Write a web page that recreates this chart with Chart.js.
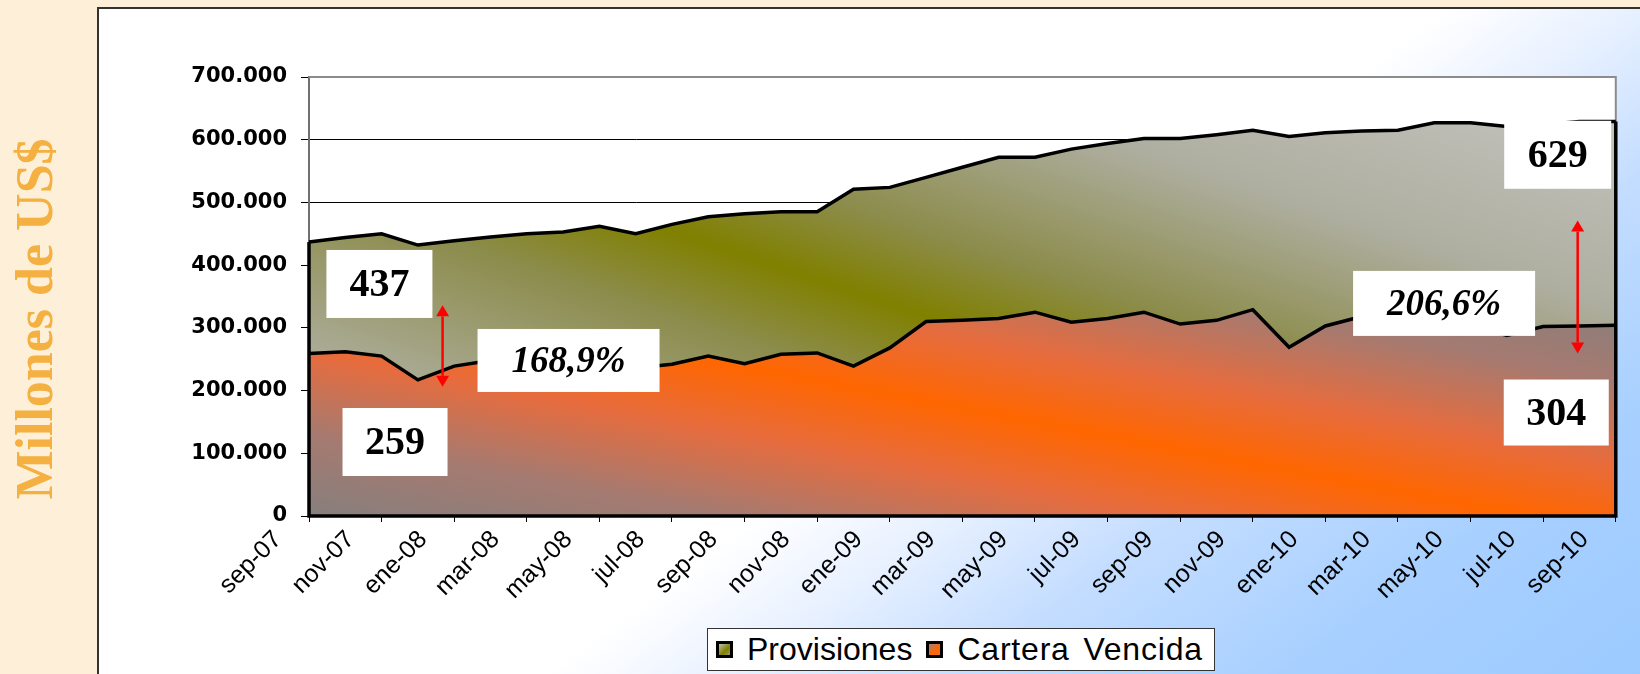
<!DOCTYPE html>
<html>
<head>
<meta charset="utf-8">
<script src="https://cdn.jsdelivr.net/npm/chart.js@4.4.0/dist/chart.umd.min.js"></script>
<style>
  html, body { margin: 0; padding: 0; }
  body { width: 1640px; height: 674px; background: #fef0d8; position: relative; overflow: hidden; }
  #title {
    position: absolute; left: 34px; top: 319px;
    transform: translate(-50%, -50%) rotate(-90deg);
    font: bold 52px "Liberation Serif", "Times New Roman", serif;
    color: #f4b040; white-space: nowrap;
  }
  #panel {
    position: absolute; left: 97px; top: 7px; width: 1545px; height: 669px;
    border-left: 2px solid #333; border-top: 2px solid #333;
    background: linear-gradient(143.5deg, #ffffff 0%, #ffffff 55%, #eaf2ff 62%, #c4ddff 72%, #a8d0ff 85%, #9ccaff 100%);
  }
  #chart { position: absolute; left: 100px; top: 10px; }
  #legend {
    position: absolute; left: 707px; top: 628px; width: 508px; height: 43px;
    background: #fff; border: 1px solid #333; box-sizing: border-box;
    display: flex; align-items: center;
    font: 32px "Liberation Sans", Arial, sans-serif; color: #000;
  }
  .item { display: flex; align-items: center; margin-left: 8px; margin-right: 6px; }
  .item + .item span:last-child { letter-spacing: 0.8px; word-spacing: 4px; }
  .sw { width: 11px; height: 11px; border: 3px solid #000; margin-right: 14px; }
</style>
</head>
<body>
<div id="panel"></div>
<div id="title">Millones de US$</div>
<canvas id="chart" width="1540" height="664"></canvas>
<div id="legend"></div>
<script>
const months = [
  "sep-07", "oct-07", "nov-07", "dic-07",
  "ene-08", "feb-08", "mar-08", "abr-08", "may-08", "jun-08", "jul-08", "ago-08", "sep-08", "oct-08", "nov-08", "dic-08",
  "ene-09", "feb-09", "mar-09", "abr-09", "may-09", "jun-09", "jul-09", "ago-09", "sep-09", "oct-09", "nov-09", "dic-09",
  "ene-10", "feb-10", "mar-10", "abr-10", "may-10", "jun-10", "jul-10", "ago-10", "sep-10",
];

// miles de US$
const provisiones = [
  437000, 444000, 450000, 432000, 439000, 445000, 450000, 453000, 462000, 450000, 465000, 477000, 482000,
  485000, 485000, 521000, 524000, 540000, 556000, 572000, 572000, 585000, 594000, 602000, 602000,
  608000, 615000, 605000, 611000, 614000, 615000, 627000, 627000, 621000, 624000, 629000, 629000,
];
const carteraVencida = [
  259000, 262000, 255000, 217000, 239000, 248000, 255000, 250000, 242000, 236000, 242000, 255000, 243000,
  258000, 260000, 239000, 268000, 310000, 312000, 315000, 325000, 309000, 315000, 325000, 306000,
  312000, 329000, 269000, 303000, 318000, 320000, 310000, 305000, 288000, 302000, 303000, 304000,
];

const yTicks = [0, 100000, 200000, 300000, 400000, 500000, 600000, 700000];

// cajas de texto y flechas sobre el grafico (i = indice de mes, v = valor)
const notes = [
  { i: 1.94, v: 370000, w: 106, h: 68, text: "437", font: 'bold 40px "Liberation Serif"' },
  { i: 2.37, v: 118000, w: 105, h: 68, text: "259", font: 'bold 40px "Liberation Serif"' },
  { i: 7.15, v: 248000, w: 182, h: 63, text: "168,9%", font: 'italic bold 37px "Liberation Serif"' },
  { i: 31.27, v: 339000, w: 182, h: 65, text: "206,6%", font: 'italic bold 37px "Liberation Serif"' },
  { i: 34.4, v: 576000, w: 107, h: 68, text: "629", font: 'bold 40px "Liberation Serif"' },
  { i: 34.36, v: 165000, w: 105, h: 66, text: "304", font: 'bold 40px "Liberation Serif"' },
];
const arrows = [
  { i: 3.68, from: 206000, to: 336000 },
  { i: 34.95, from: 259000, to: 471000 },
];

function bandGradient(chart, p0, p1, stops) {
  const a = chart.chartArea;
  if (!a) return null;
  const g = chart.ctx.createLinearGradient(
    a.left + p0[0] * a.width, a.top + p0[1] * a.height,
    a.left + p1[0] * a.width, a.top + p1[1] * a.height
  );
  stops.forEach(s => g.addColorStop(s[0], s[1]));
  return g;
}

const oliveStops = [
  [0, "#c0c0c0"], [0.22, "#aaaa94"], [0.4, "#8c8c4c"], [0.5, "#808000"],
  [0.6, "#8c8c4c"], [0.78, "#aeaea0"], [1, "#c2c2bc"],
];
const orangeStops = [
  [0, "#808080"], [0.2, "#a67a70"], [0.36, "#e66c3e"], [0.5, "#ff6600"],
  [0.64, "#e66c3e"], [0.8, "#a67a70"], [1, "#808080"],
];

const plotFrame = {
  id: "plotFrame",
  beforeDraw(chart) {
    const { ctx, chartArea: a } = chart;
    ctx.save();
    ctx.fillStyle = "#fff";
    ctx.fillRect(a.left, a.top, a.width, a.height);
    ctx.restore();
  },
  beforeDatasetsDraw(chart) {
    const { ctx, chartArea: a } = chart;
    ctx.save();
    ctx.strokeStyle = "#8c8c8c";
    ctx.lineWidth = 2;
    ctx.beginPath();
    ctx.moveTo(a.left, a.top);
    ctx.lineTo(a.right, a.top);
    ctx.lineTo(a.right, a.bottom);
    ctx.stroke();
    ctx.restore();
  },
  afterDatasetsDraw(chart) {
    // bordes verticales e inferior de las areas
    const { ctx } = chart;
    const y0 = chart.scales.y.getPixelForValue(0);
    let topL = y0, topR = y0, xL = 0, xR = 0;
    chart.data.datasets.forEach((ds, k) => {
      const pts = chart.getDatasetMeta(k).data;
      xL = pts[0].x;
      xR = pts[pts.length - 1].x;
      topL = Math.min(topL, pts[0].y);
      topR = Math.min(topR, pts[pts.length - 1].y);
    });
    ctx.save();
    ctx.strokeStyle = "#000";
    ctx.lineWidth = 3.5;
    ctx.lineJoin = "miter";
    ctx.beginPath();
    ctx.moveTo(xL, topL);
    ctx.lineTo(xL, y0);
    ctx.lineTo(xR, y0);
    ctx.lineTo(xR, topR);
    ctx.stroke();
    ctx.restore();
  },
  afterDraw(chart) {
    const { ctx } = chart;
    const xs = chart.scales.x, ys = chart.scales.y;
    ctx.save();
    notes.forEach(n => {
      const cx = xs.getPixelForValue(n.i), cy = ys.getPixelForValue(n.v);
      ctx.fillStyle = "#fff";
      ctx.fillRect(cx - n.w / 2, cy - n.h / 2, n.w, n.h);
      ctx.fillStyle = "#000";
      ctx.font = n.font;
      ctx.textAlign = "center";
      ctx.textBaseline = "middle";
      ctx.fillText(n.text, cx, cy + 2);
    });
    arrows.forEach(ar => {
      const x = xs.getPixelForValue(ar.i);
      const yb = ys.getPixelForValue(ar.from), yt = ys.getPixelForValue(ar.to);
      const hh = 11, hw = 6.5;
      ctx.strokeStyle = "#ff0000";
      ctx.fillStyle = "#ff0000";
      ctx.lineWidth = 2.5;
      ctx.beginPath();
      ctx.moveTo(x, yt + hh);
      ctx.lineTo(x, yb - hh);
      ctx.stroke();
      ctx.beginPath();
      ctx.moveTo(x, yt); ctx.lineTo(x - hw, yt + hh); ctx.lineTo(x + hw, yt + hh); ctx.closePath();
      ctx.fill();
      ctx.beginPath();
      ctx.moveTo(x, yb); ctx.lineTo(x - hw, yb - hh); ctx.lineTo(x + hw, yb - hh); ctx.closePath();
      ctx.fill();
    });
    ctx.restore();
  },
};

const chart = new Chart(document.getElementById("chart"), {
  type: "line",
  data: {
    labels: months,
    datasets: [
      {
        label: "Provisiones",
        data: provisiones,
        order: 2,
        fill: "origin",
        borderColor: "#000",
        borderWidth: 3.5,
        borderJoinStyle: "miter",
        pointRadius: 0,
        tension: 0,
        backgroundColor: c => bandGradient(c.chart, [0.2246, 1.257], [0.4186, -0.469], oliveStops),
        swatch: "linear-gradient(135deg, #c0c0b0, #808000 60%, #9a9a60)",
      },
      {
        label: "Cartera Vencida",
        data: carteraVencida,
        order: 1,
        fill: "origin",
        borderColor: "#000",
        borderWidth: 3.5,
        borderJoinStyle: "miter",
        pointRadius: 0,
        tension: 0,
        backgroundColor: c => bandGradient(c.chart, [0.34, 1.232], [0.41, 0.135], orangeStops),
        swatch: "linear-gradient(135deg, #a08080, #ff6600 60%, #f06a30)",
      },
    ],
  },
  options: {
    responsive: false,
    animation: false,
    layout: { padding: { top: 67, right: 22, left: 0, bottom: 0 } },
    plugins: {
      legend: { display: false },
      tooltip: { enabled: false },
    },
    scales: {
      x: {
        offset: false,
        afterFit: s => { s.height = 158; },
        border: { display: false },
        grid: {
          drawOnChartArea: false,
          tickLength: 6,
          tickColor: c => (c.index % 2 === 0 ? "#000" : "rgba(0,0,0,0)"),
        },
        ticks: {
          autoSkip: false,
          minRotation: 45,
          maxRotation: 45,
          padding: 3,
          labelOffset: -31,
          color: "#000",
          font: { family: "Liberation Sans", size: 25 },
          callback: function (val, idx) {
            return idx % 2 === 0 ? this.getLabelForValue(val) : "";
          },
        },
      },
      y: {
        min: 0,
        max: 700000,
        afterFit: s => { s.width = 209; },
        afterBuildTicks: s => { s.ticks = yTicks.map(v => ({ value: v })); },
        border: { color: "#707070", width: 2 },
        grid: {
          color: c => (c.tick && c.tick.value === 700000 ? "#8c8c8c" : "#000"),
          lineWidth: 1,
          tickLength: 8,
          tickColor: "#000",
        },
        ticks: {
          padding: 14,
          color: "#000",
          font: { family: "DejaVu Sans", size: 21, weight: "bold" },
          callback: v => String(v).replace(/\B(?=(\d{3})+(?!\d))/g, "."),
        },
      },
    },
  },
  plugins: [plotFrame],
});

// leyenda
const legend = document.getElementById("legend");
chart.data.datasets.forEach(ds => {
  const item = document.createElement("div");
  item.className = "item";
  const sw = document.createElement("span");
  sw.className = "sw";
  sw.style.background = ds.swatch;
  const txt = document.createElement("span");
  txt.textContent = ds.label;
  item.appendChild(sw);
  item.appendChild(txt);
  legend.appendChild(item);
});
</script>
</body>
</html>
